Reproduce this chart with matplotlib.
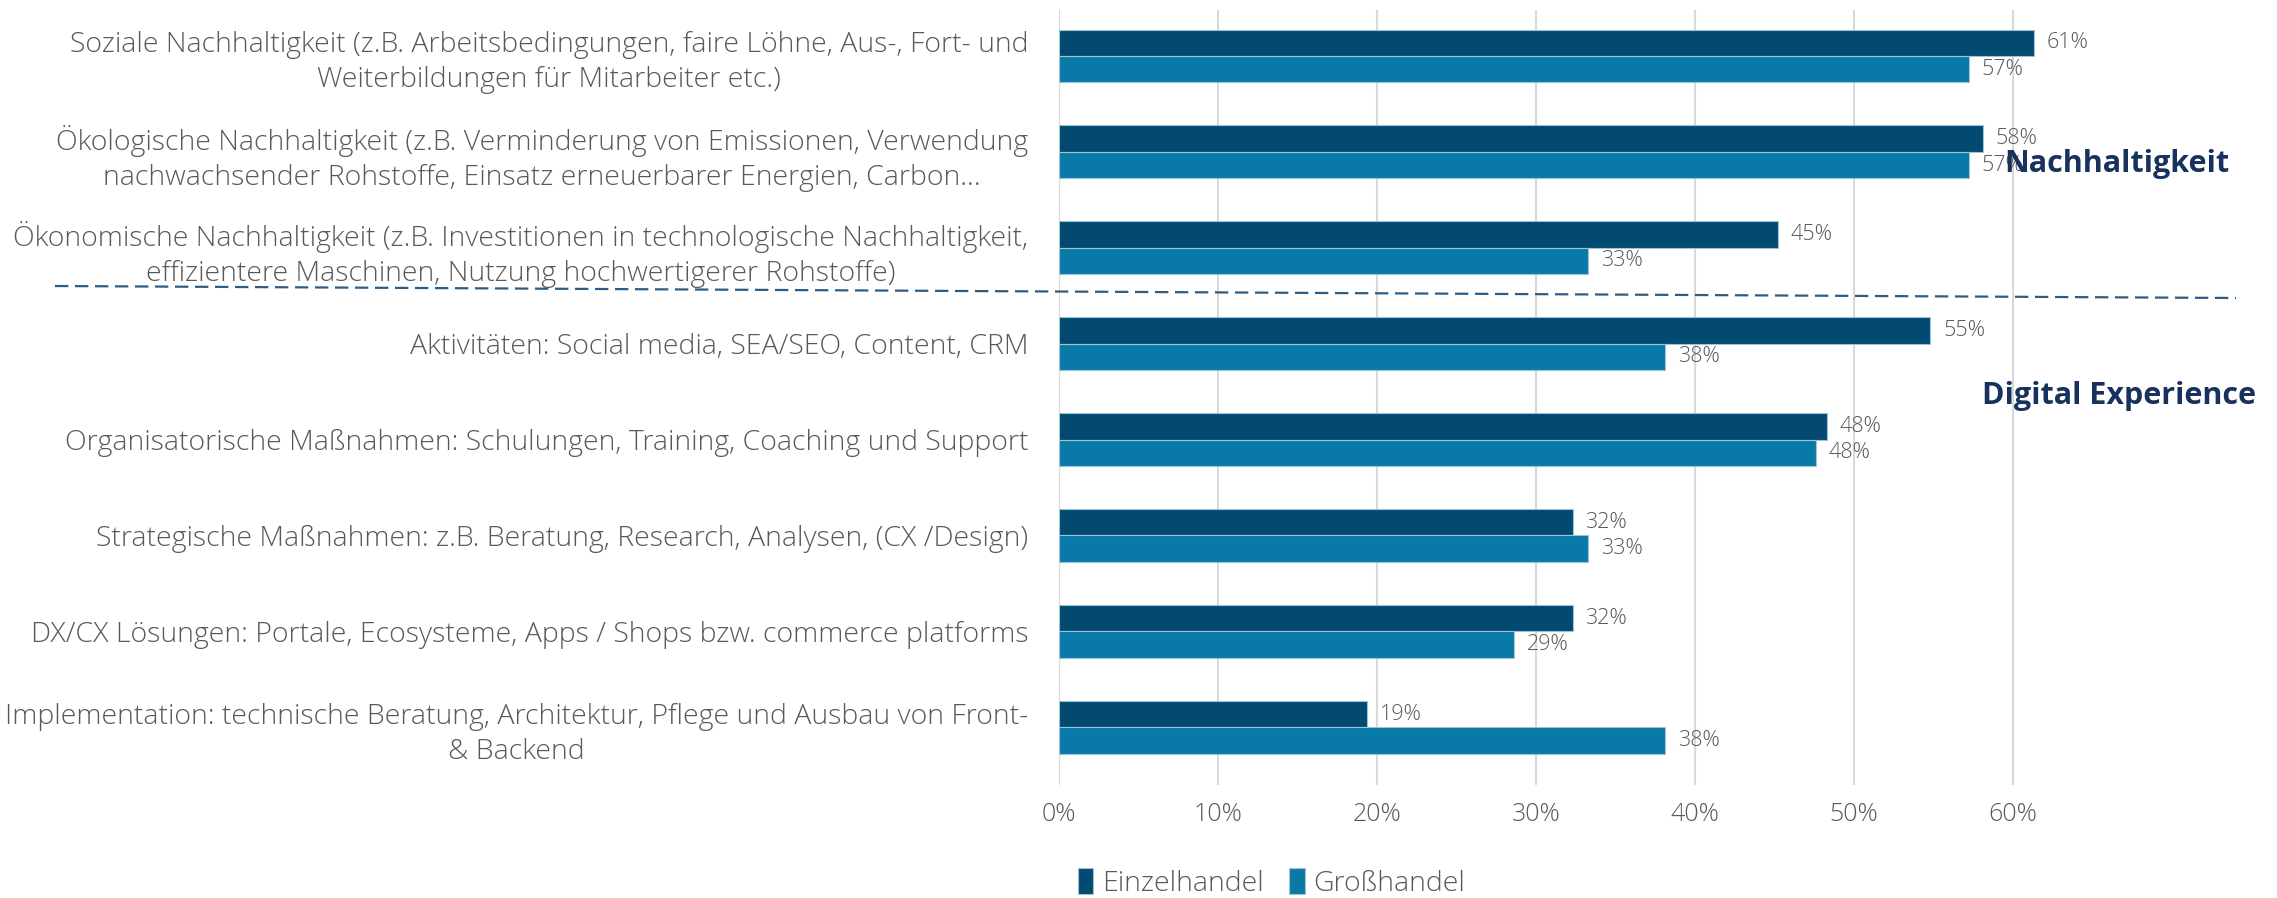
import matplotlib.pyplot as plt
from matplotlib.lines import Line2D
import numpy as np

plt.rcParams['font.family'] = ['Open Sans', 'DejaVu Sans']

kategorien = [
    'Soziale Nachhaltigkeit (z.B. Arbeitsbedingungen, faire Löhne, Aus-, Fort- und\nWeiterbildungen für Mitarbeiter etc.)',
    'Ökologische Nachhaltigkeit (z.B. Verminderung von Emissionen, Verwendung\nnachwachsender Rohstoffe, Einsatz erneuerbarer Energien, Carbon…',
    'Ökonomische Nachhaltigkeit (z.B. Investitionen in technologische Nachhaltigkeit,\neffizientere Maschinen, Nutzung hochwertigerer Rohstoffe)',
    'Aktivitäten: Social media, SEA/SEO, Content, CRM',
    'Organisatorische Maßnahmen: Schulungen, Training, Coaching und Support',
    'Strategische Maßnahmen: z.B. Beratung, Research, Analysen, (CX /Design)',
    'DX/CX Lösungen: Portale, Ecosysteme, Apps / Shops bzw. commerce platforms',
    'Implementation: technische Beratung, Architektur, Pflege und Ausbau von Front-\n& Backend',
]
einzelhandel = [0.613, 0.581, 0.452, 0.548, 0.483, 0.323, 0.323, 0.194]
grosshandel = [0.572, 0.572, 0.333, 0.381, 0.476, 0.333, 0.286, 0.381]
x_ticks = [0, 0.1, 0.2, 0.3, 0.4, 0.5, 0.6]
x_ticklabels = ['0%', '10%', '20%', '30%', '40%', '50%', '60%']

c_einzel = '#024a70'
c_gross = '#0979a7'
c_text = '#595959'
c_titel = '#17325c'

fig = plt.figure(figsize=(22.77, 8.98), dpi=100)
ax = fig.add_axes([0.465, 0.126, 0.489, 0.863])

y = np.arange(len(kategorien))
h = 0.275
ax.barh(y - h / 2, einzelhandel, height=h, color=c_einzel, edgecolor='#9fc3d6', linewidth=0.8, label='Einzelhandel', zorder=3)
ax.barh(y + h / 2, grosshandel, height=h, color=c_gross, edgecolor='#9fc3d6', linewidth=0.8, label='Großhandel', zorder=3)

# Datenbeschriftungen
for i in range(len(kategorien)):
    ax.text(einzelhandel[i] + 0.008, y[i] - h / 2, '{:.0f}%'.format(einzelhandel[i] * 100),
            va='center', ha='left', fontsize=15.5, color=c_text, fontweight='light')
    ax.text(grosshandel[i] + 0.008, y[i] + h / 2, '{:.0f}%'.format(grosshandel[i] * 100),
            va='center', ha='left', fontsize=15.5, color=c_text, fontweight='light')

ax.set_xlim(0, 0.7)
ax.set_ylim(7.6, -0.48)
ax.set_xticks(x_ticks)
ax.set_xticklabels(x_ticklabels, fontsize=18, color=c_text, fontweight='light')
ax.set_yticks(y)
ax.set_yticklabels(kategorien, fontsize=20.5, color=c_text, fontweight='light', multialignment='center',
                   linespacing=1.32)
ax.tick_params(axis='y', length=0, pad=22)
ax.tick_params(axis='x', length=0, pad=12)
ax.grid(axis='x', color='#d9d9d9', linewidth=1.5, zorder=0)
for s in ax.spines.values():
    s.set_visible(False)

# Gruppen
fig.text(2004 / 2277, 1 - 164 / 898, 'Nachhaltigkeit', fontsize=22, fontweight='bold', color=c_titel, va='center', ha='left')
fig.text(1982 / 2277, 1 - 396 / 898, 'Digital Experience', fontsize=22, fontweight='bold', color=c_titel, va='center', ha='left')
fig.add_artist(Line2D([55 / 2277, 2236 / 2277], [1 - 286 / 898, 1 - 298 / 898],
                      transform=fig.transFigure, color='#2b5d86', linestyle='--', linewidth=1.6, dashes=(6, 3)))

fig.legend(loc='center left', bbox_to_anchor=(1052 / 2277, 1 - 883 / 898), ncol=2, frameon=False,
           handlelength=0.55, handleheight=1.0, handletextpad=0.3, columnspacing=0.9,
           labelcolor=c_text, prop={'weight': 'light', 'size': 20.5})

fig.savefig('out.png', dpi=100)
